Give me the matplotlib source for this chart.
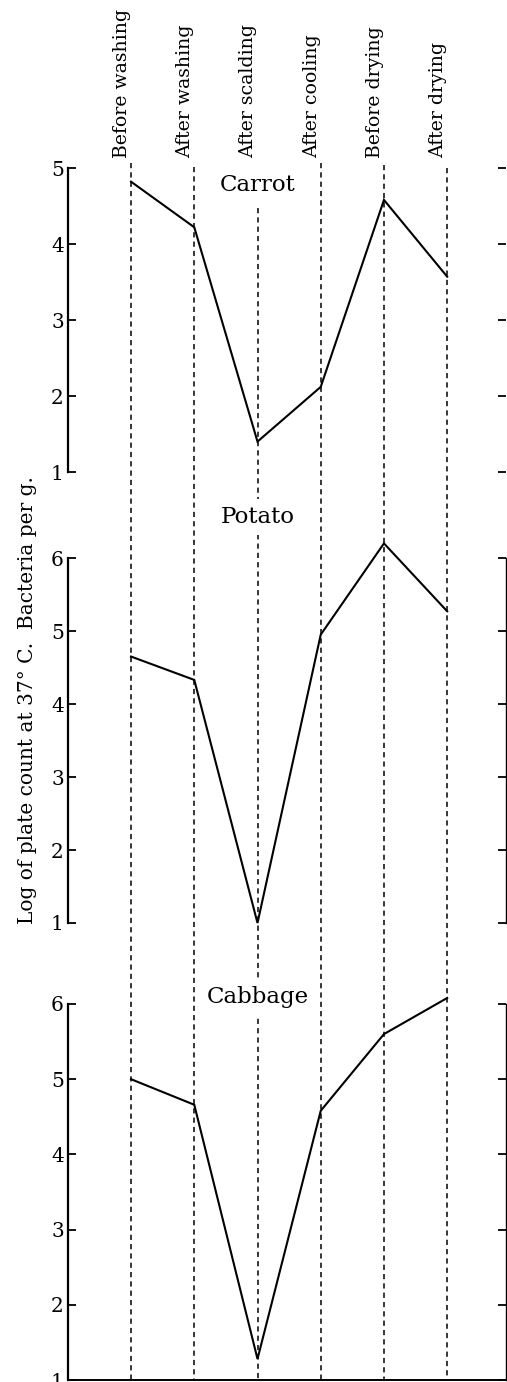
import matplotlib
matplotlib.use('Agg')
import matplotlib.pyplot as plt
import matplotlib.transforms as mtransforms

# ---------------- data ----------------
stages = ["Before washing", "After washing", "After scalding",
          "After cooling", "Before drying", "After drying"]
carrot = [4.82, 4.22, 1.40, 2.12, 4.58, 3.57]
potato = [4.65, 4.33, 1.00, 4.95, 6.20, 5.27]
cabbage = [5.00, 4.66, 1.28, 4.58, 5.60, 6.08]
panel_names = ["Carrot", "Potato", "Cabbage"]
carrot_ticks = [1, 2, 3, 4, 5]
potato_ticks = [1, 2, 3, 4, 5, 6]
cabbage_ticks = [1, 2, 3, 4, 5, 6]
ylabel = "Log of plate count at 37\u00b0 C.  Bacteria per g."

# ---------------- layout ----------------
plt.rcParams['font.family'] = ['DejaVu Serif']
W, H = 507, 1382
fig = plt.figure(figsize=(W / 100, H / 100), dpi=100)
fig.patch.set_facecolor('white')

left = 68 / W
width = (506 - 68) / W
xs = list(range(len(stages)))
xlim = (-0.997, 5.93)

# overlay for dashed guide lines (pixel y-coordinates from top)
ov = fig.add_axes([left, 0, width, 1], zorder=0)
ov.set_xlim(*xlim)
ov.set_ylim(H, 0)
ov.axis('off')
tops = [163, 167, 208, 163, 165, 168]
for x, t in zip(xs, tops):
    ov.plot([x, x], [t, 1380], color='black', lw=1.1,
            linestyle=(0, (3.4, 2.7)))

# stage labels
tr = mtransforms.blended_transform_factory(ov.transData, fig.transFigure) + \
    mtransforms.ScaledTranslation(-9 / 100, 0, fig.dpi_scale_trans)
for x, s in zip(xs, stages):
    fig.text(x, 1 - 158 / H, s, transform=tr, rotation=90,
             ha='center', va='bottom', fontsize=13.6)

panels = [
    (carrot, panel_names[0], 168, 472, (1, 5), carrot_ticks, 4.78, False, False),
    (potato, panel_names[1], 558, 923, (1, 6), potato_ticks, 6.56, True, False),
    (cabbage, panel_names[2], 1004, 1380, (1, 6), cabbage_ticks, 6.09, True, True),
]

for vals, name, ptop, pbot, ylim, ticks, ty, rspine, bspine in panels:
    ax = fig.add_axes([left, 1 - pbot / H, width, (pbot - ptop) / H], zorder=2)
    ax.set_facecolor('none')
    ax.set_xlim(*xlim)
    ax.set_ylim(*ylim)
    ax.plot(xs, vals, color='black', lw=1.5, clip_on=False, zorder=3,
            solid_joinstyle='miter')
    ax.set_xticks([])
    ax.set_yticks(ticks)
    ax.set_yticklabels([str(t) for t in ticks])
    ax.tick_params(axis='y', direction='in', length=6, width=1.3,
                   right=True, labelright=False, pad=3, labelsize=14.5)
    ax.spines['top'].set_visible(False)
    ax.spines['bottom'].set_visible(bspine)
    ax.spines['right'].set_visible(rspine)
    ax.spines['left'].set_linewidth(1.6)
    ax.spines['right'].set_linewidth(1.0)
    ax.spines['bottom'].set_linewidth(1.4)
    ax.text(2, ty, name, ha='center', va='center', fontsize=16.5, zorder=5,
            bbox=dict(boxstyle='square,pad=0.3', fc='white', ec='none'))

fig.text(28 / W, 1 - 700 / H, ylabel, rotation=90, ha='center', va='center',
         fontsize=14.5)

fig.savefig('out.png', dpi=100, facecolor='white')
